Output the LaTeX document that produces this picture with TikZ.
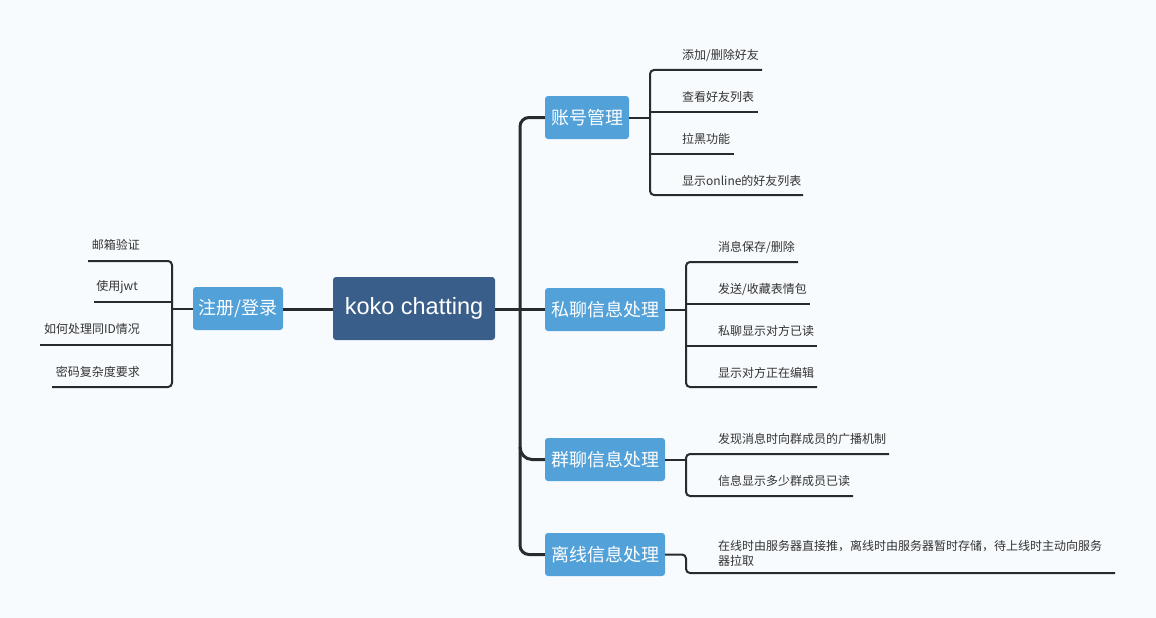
\documentclass[tikz,border=0pt]{standalone}
\usepackage{fontspec}
\setmainfont{Noto Sans CJK SC}
\newfontfamily\rootfont{Liberation Sans}
\definecolor{bgc}{HTML}{F7FBFE}
\definecolor{rootc}{HTML}{3A5E8A}
\definecolor{subc}{HTML}{52A1D9}
\definecolor{linec}{HTML}{262B30}
\definecolor{leafc}{HTML}{333333}
\begin{document}
\begin{tikzpicture}[x=1pt,y=-1pt,
  rootbox/.style={fill=rootc,text=white,rounded corners=3pt,inner sep=0pt,minimum width=162pt,minimum height=63pt,font=\rootfont\fontsize{23.5}{26}\selectfont},
  subbox/.style={fill=subc,text=white,rounded corners=3pt,inner sep=0pt,minimum height=43pt,font=\fontsize{18}{20}\selectfont},
  leaftext/.style={text=leafc,inner sep=0pt,font=\fontsize{12}{15}\selectfont},
  trunk/.style={draw=linec,line width=3pt},
  leafline/.style={draw=linec,line width=2pt,rounded corners=4pt}]
\useasboundingbox[fill=bgc] (0,0) rectangle (1156,618);

% main nodes
\node[rootbox] (root) at (414,308.5) {koko chatting};
\node[subbox,minimum width=90pt] (reg) at (238,308.5) {注册/登录};
\node[subbox,minimum width=84pt] (acc) at (587,117.5) {账号管理};
\node[subbox,minimum width=120pt] (priv) at (605,309.5) {私聊信息处理};
\node[subbox,minimum width=120pt] (grp) at (605,459.5) {群聊信息处理};
\node[subbox,minimum width=120pt] (off) at (605,554.5) {离线信息处理};

% trunk
\coordinate (tr) at (520,309);
\draw[trunk] (root.east |- tr) -- (priv.west |- tr);
\draw[trunk] (reg.east |- tr) -- (root.west |- tr);
\draw[trunk,rounded corners=9pt] (acc.west) -- (520,117.5) -- (520,554.5) -- (off.west);
\draw[trunk] (520,447) to[out=-90,in=180] (532,459.5) -- (grp.west);

% left leaves
\node[leaftext,anchor=east] (l1) at (140,245) {邮箱验证};
\node[leaftext,anchor=east] (l2) at (138,287) {使用jwt};
\node[leaftext,anchor=east] (l3) at (140,329) {如何处理同ID情况};
\node[leaftext,anchor=east] (l4) at (140,371.5) {密码复杂度要求};
\coordinate (lj) at (172,309);
\draw[leafline] (reg.west |- lj) -- (lj);
\draw[leafline] (88,261) -- (172,261) -- (172,387) -- (52,387);
\draw[leafline] (94,302) -- (172,302);
\draw[leafline] (40,345) -- (172,345);

% account leaves
\node[leaftext,anchor=west] (a1) at (682,55) {添加/删除好友};
\node[leaftext,anchor=west] (a2) at (682,97) {查看好友列表};
\node[leaftext,anchor=west] (a3) at (682,139) {拉黑功能};
\node[leaftext,anchor=west] (a4) at (682,181) {显示online的好友列表};
\coordinate (aj) at (650,117.5);
\draw[leafline] (acc.east) -- (aj);
\draw[leafline] (762,70) -- (650,70) -- (650,195) -- (803,195);
\draw[leafline] (650,112) -- (758,112);
\draw[leafline] (650,154) -- (734,154);

% private leaves
\node[leaftext,anchor=west] (p1) at (718,247) {消息保存/删除};
\node[leaftext,anchor=west] (p2) at (718,289.5) {发送/收藏表情包};
\node[leaftext,anchor=west] (p3) at (718,330.5) {私聊显示对方已读};
\node[leaftext,anchor=west] (p4) at (718,373) {显示对方正在编辑};
\coordinate (pj) at (686,309.5);
\draw[leafline] (priv.east) -- (pj);
\draw[leafline] (798,262) -- (686,262) -- (686,387) -- (817,387);
\draw[leafline] (686,304) -- (810,304);
\draw[leafline] (686,346) -- (817,346);

% group leaves
\node[leaftext,anchor=west] (g1) at (718,439) {发现消息时向群成员的广播机制};
\node[leaftext,anchor=west] (g2) at (718,481) {信息显示多少群成员已读};
\coordinate (gj) at (686,459.5);
\draw[leafline] (grp.east) -- (gj);
\draw[leafline] (889,454) -- (686,454) -- (686,496) -- (853,496);

% offline leaf
\node[leaftext,anchor=north west,align=left] (o1) at (718,540) {在线时由服务器直接推，离线时由服务器暂时存储，待上线时主动向服务\\器拉取};
\coordinate (oj) at (686,554.5);
\draw[leafline] (off.east) -- (oj) -- (686,573) -- (1115,573);
\end{tikzpicture}
\end{document}
